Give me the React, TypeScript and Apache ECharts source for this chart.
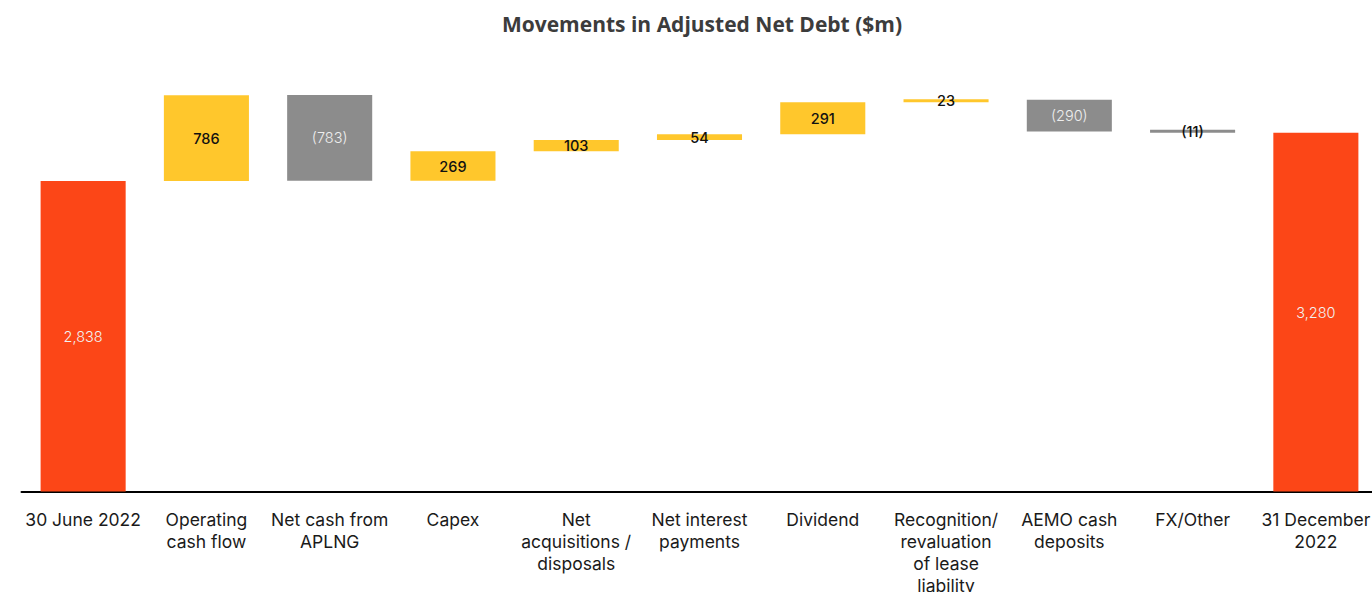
import React, { useEffect, useRef } from "react";
import * as echarts from "echarts";

const categories: string[] = [
  "30 June 2022",
  "Operating\ncash flow",
  "Net cash from\nAPLNG",
  "Capex",
  "Net\nacquisitions /\ndisposals",
  "Net interest\npayments",
  "Dividend",
  "Recognition/\nrevaluation\nof lease\nliability",
  "AEMO cash\ndeposits",
  "FX/Other",
  "31 December\n2022",
];
// movement values ($m); first and last are totals
const movements: number[] = [2838, 786, -783, 269, 103, 54, 291, 23, -290, -11, 3280];
const isTotal: boolean[] = [true, false, false, false, false, false, false, false, false, false, true];

const RED = "#FC4617";
const YELLOW = "#FFC72C";
const GRAY = "#8C8C8C";

function fmt(v: number, total: boolean): string {
  const s = Math.abs(v).toLocaleString("en-US");
  if (total) return s;
  return v < 0 ? `(${s})` : s;
}

export default function App() {
  const ref = useRef<HTMLDivElement>(null);
  useEffect(() => {
    if (!ref.current) return;
    const chart = echarts.init(ref.current, undefined, { renderer: "svg" });
    const bases: number[] = [];
    const heights: number[] = [];
    let running = 0;
    movements.forEach((v, i) => {
      if (isTotal[i]) {
        bases.push(0);
        heights.push(v);
        running = v;
      } else if (v >= 0) {
        bases.push(running);
        heights.push(v);
        running += v;
      } else {
        bases.push(running + v);
        heights.push(-v);
        running += v;
      }
    });
    const visible = heights.map((h, i) => {
      const v = movements[i];
      const color = isTotal[i] ? RED : v >= 0 ? YELLOW : GRAY;
      const small = h < 40;
      const labelColor = isTotal[i] ? "#f2f2f2" : v >= 0 || small ? "#111111" : "#eeeeee";
      return {
        value: h,
        itemStyle: { color },
        label: {
          color: labelColor,
          fontWeight: isTotal[i] || (v < 0 && !small) ? 300 : 500,
        },
      };
    });
    chart.setOption({
      animation: false,
      title: {
        text: "Movements in Adjusted Net Debt ($m)",
        left: 697,
        textAlign: "center",
        top: 8,
        textStyle: { fontFamily: "Open Sans", fontSize: 21, fontWeight: "bold", color: "#3c3c3c" },
      },
      grid: {
        left: 21.5,
        right: -5.5,
        top: 54,
        bottom: 100.5,
        containLabel: false,
        outerBoundsMode: "none",
      },
      xAxis: {
        type: "category",
        data: categories,
        axisLine: { lineStyle: { color: "#000", width: 2 } },
        axisTick: { show: false },
        axisLabel: {
          interval: 0,
          margin: 17,
          fontFamily: "Inter",
          fontSize: 17.5,
          lineHeight: 22,
          color: "#1a1a1a",
        },
      },
      yAxis: { type: "value", min: 0, max: 4000, show: false, splitLine: { show: false } },
      series: [
        {
          type: "bar",
          stack: "w",
          data: bases,
          itemStyle: { color: "transparent" },
          barWidth: "69%",
          silent: true,
        },
        {
          type: "bar",
          stack: "w",
          data: visible,
          barWidth: "69%",
          barMinHeight: 3,
          label: {
            show: true,
            position: "inside",
            fontFamily: "Inter",
            fontSize: 14.5,
            formatter: (p: any) => fmt(movements[p.dataIndex], isTotal[p.dataIndex]),
          },
        },
      ],
    });
    return () => chart.dispose();
  }, []);
  return (
    <div
      ref={ref}
      style={{ position: "fixed", left: 0, top: 0, width: 1372, height: 592, background: "#fff" }}
    />
  );
}
